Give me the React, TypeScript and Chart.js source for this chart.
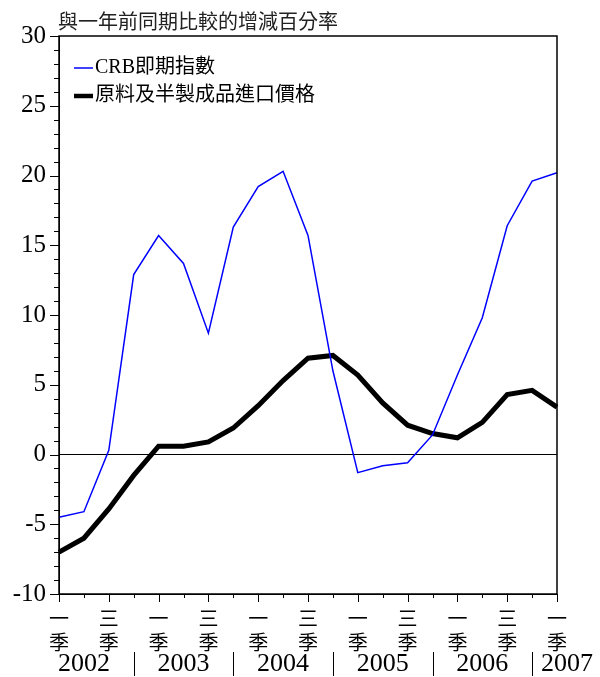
import React, { useEffect, useRef } from "react";
import { Chart, registerables } from "chart.js";

Chart.register(...registerables);

const quarters = [
  "2002Q1", "2002Q2", "2002Q3", "2002Q4",
  "2003Q1", "2003Q2", "2003Q3", "2003Q4",
  "2004Q1", "2004Q2", "2004Q3", "2004Q4",
  "2005Q1", "2005Q2", "2005Q3", "2005Q4",
  "2006Q1", "2006Q2", "2006Q3", "2006Q4",
  "2007Q1",
];
const quarterTicks = [
  "一", "", "三", "", "一", "", "三", "", "一", "", "三", "",
  "一", "", "三", "", "一", "", "三", "", "一",
];
const years = ["2002", "2003", "2004", "2005", "2006", "2007"];

const crb = [-4.5, -4.1, 0.3, 12.9, 15.7, 13.7, 8.7, 16.3, 19.2, 20.3, 15.7, 6.0, -1.3, -0.8, -0.6, 1.4, 5.7, 9.8, 16.4, 19.6, 20.2];
const importPrice = [-7.0, -6.0, -3.9, -1.5, 0.6, 0.6, 0.9, 1.9, 3.5, 5.3, 6.9, 7.1, 5.7, 3.7, 2.1, 1.5, 1.2, 2.3, 4.3, 4.6, 3.4];

const seriesNames = ["CRB即期指數", "原料及半製成品進口價格"];
const title = "與一年前同期比較的增減百分率";

const yMin = -10;
const yMax = 30;
const yStep = 5;

const SERIF = "'Liberation Serif', 'Noto Sans CJK TC', serif";
const CJK = "'Noto Sans CJK TC', 'Liberation Serif', sans-serif";

const decorPlugin = {
  id: "decor",
  afterDraw(chart: any) {
    const { ctx, chartArea } = chart;
    const xs = chart.scales.x;
    const ys = chart.scales.y;
    const { left, right, top, bottom } = chartArea;
    ctx.save();
    // frame
    ctx.strokeStyle = "#000";
    ctx.lineWidth = 1.5;
    ctx.strokeRect(left, top, right - left, bottom - top);
    // y ticks
    ctx.lineWidth = 1;
    for (let v = yMin; v <= yMax; v += 1) {
      const py = Math.round(ys.getPixelForValue(v)) + 0.5;
      const len = v % yStep === 0 ? 9 : 5;
      ctx.beginPath();
      ctx.moveTo(left - len, py);
      ctx.lineTo(left, py);
      ctx.stroke();
    }
    // x ticks
    for (let i = 0; i < quarters.length; i++) {
      const px = Math.round(xs.getPixelForValue(i)) + 0.5;
      const len = quarterTicks[i] ? 8 : 4;
      ctx.beginPath();
      ctx.moveTo(px, bottom);
      ctx.lineTo(px, bottom + len);
      ctx.stroke();
    }
    // year row
    ctx.fillStyle = "#000";
    ctx.font = `26px ${SERIF}`;
    ctx.textBaseline = "middle";
    ctx.textAlign = "center";
    const yy = 664;
    years.forEach((yr, k) => {
      const idx = k * 4 + 1;
      let px: number;
      if (idx < quarters.length) {
        px = xs.getPixelForValue(idx);
      } else {
        px = xs.getPixelForValue(k * 4) + 10;
      }
      ctx.fillText(yr, px, yy);
      const sepIdx = k * 4 + 3;
      if (sepIdx < quarters.length) {
        const sx = xs.getPixelForValue(sepIdx);
        ctx.fillRect(Math.round(sx), yy - 12, 1, 24);
      }
    });
    // title
    ctx.textAlign = "left";
    ctx.font = `20px ${CJK}`;
    ctx.fillStyle = "#222";
    ctx.fillText(title, left - 1, 21);
    // legend
    const legend = [
      { name: seriesNames[0], color: "#0000ff", width: 1.5, y: 68 },
      { name: seriesNames[1], color: "#000", width: 4.5, y: 96 },
    ];
    legend.forEach((l) => {
      ctx.strokeStyle = l.color;
      ctx.lineWidth = l.width;
      ctx.beginPath();
      ctx.moveTo(left + 15, l.y);
      ctx.lineTo(left + 34, l.y);
      ctx.stroke();
      ctx.fillStyle = "#000";
      ctx.font = `20px ${SERIF}`;
      ctx.fillText(l.name, left + 36, l.y);
    });
    ctx.restore();
  },
};

export default function App() {
  const ref = useRef<HTMLCanvasElement | null>(null);
  useEffect(() => {
    if (!ref.current) return;
    const chart = new Chart(ref.current, {
      type: "line",
      data: {
        labels: quarters,
        datasets: [
          {
            label: seriesNames[0],
            data: crb,
            borderColor: "#0000ff",
            borderWidth: 1.5,
            pointRadius: 0,
            tension: 0,
            fill: false,
          },
          {
            label: seriesNames[1],
            data: importPrice,
            borderColor: "#000000",
            borderWidth: 5,
            pointRadius: 0,
            tension: 0,
            fill: false,
          },
        ],
      },
      options: {
        responsive: false,
        animation: false,
        devicePixelRatio: 1,
        layout: { padding: { top: 36, right: 43, left: 0, bottom: 0 } },
        plugins: {
          legend: { display: false },
          title: { display: false },
          tooltip: { enabled: false },
        },
        scales: {
          x: {
            type: "category",
            offset: false,
            grid: { display: false, drawTicks: false },
            border: { display: true, color: "#000", width: 1 },
            ticks: {
              autoSkip: false,
              maxRotation: 0,
              minRotation: 0,
              padding: 12,
              color: "#000",
              font: { family: CJK, size: 20, lineHeight: 1.2 },
              callback: (_v: any, i: number) =>
                quarterTicks[i] ? [quarterTicks[i], "季"] : "",
            },
            afterFit: (s: any) => {
              s.height = 83;
            },
          },
          y: {
            min: yMin,
            max: yMax,
            grid: {
              display: true,
              drawTicks: false,
              color: (c: any) => (c.tick && c.tick.value === 0 ? "#000" : "rgba(0,0,0,0)"),
              lineWidth: 1,
            },
            border: { display: true, color: "#000", width: 1 },
            ticks: {
              stepSize: yStep,
              padding: 13,
              color: "#000",
              font: { family: SERIF, size: 25 },
            },
            afterFit: (s: any) => {
              s.width = 59;
            },
          },
        },
      },
      plugins: [decorPlugin],
    });
    return () => chart.destroy();
  }, []);
  return (
    <div style={{ position: "absolute", left: 0, top: 0, width: 600, height: 677 }}>
      <canvas ref={ref} width={600} height={677} style={{ width: 600, height: 677 }} />
    </div>
  );
}
